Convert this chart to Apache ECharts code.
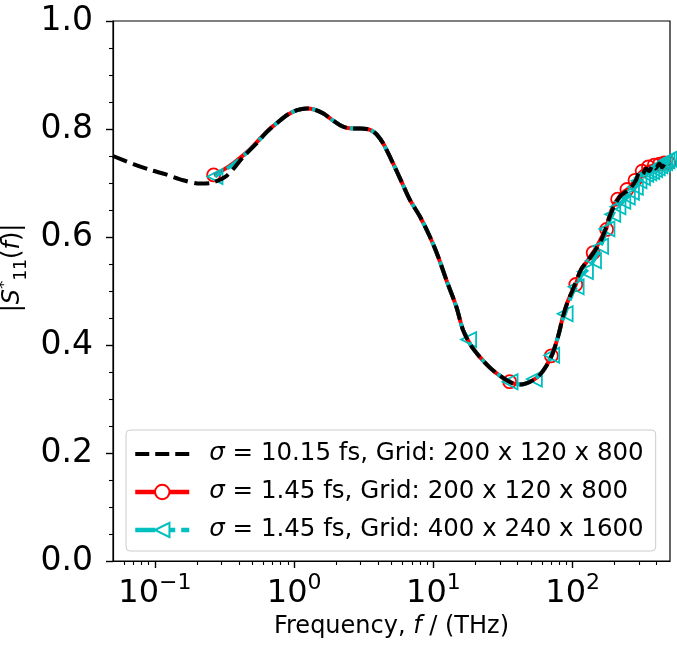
<!DOCTYPE html>
<html>
<head>
<meta charset="utf-8">
<script src="https://cdn.jsdelivr.net/npm/echarts@6/dist/echarts.min.js"></script>
<style>
  html, body { margin: 0; padding: 0; background: #fff; }
  #main { width: 677px; height: 651px; }
</style>
</head>
<body>
<div id="main"></div>
<script>
// sigma = 10.15 fs, coarse grid (black dashed)
var blackFreq = [0.05, 0.07, 0.093, 0.12, 0.16, 0.21, 0.26, 0.33, 0.43, 0.53, 0.64, 0.76, 0.89, 1.05, 1.23, 1.4, 1.61, 1.85, 2.14, 2.4, 2.65, 3.0, 3.32, 3.6, 3.91, 4.36, 5.14, 5.91, 6.77, 8.0, 9.42, 10.8, 12.4, 14.6, 16.3, 18.5, 21.5, 25, 28.3, 33, 37.2, 42, 46.4, 52, 57.8, 65, 72, 79, 85, 92, 100, 115, 128, 139, 151, 164, 184, 199, 222, 255, 285, 301, 318, 336, 355, 375, 395, 419, 440, 465, 493];
var blackVal = [0.750, 0.735, 0.724, 0.716, 0.705, 0.699, 0.701, 0.714, 0.748, 0.772, 0.795, 0.812, 0.826, 0.835, 0.838, 0.836, 0.829, 0.818, 0.807, 0.802, 0.801, 0.801, 0.800, 0.797, 0.790, 0.773, 0.736, 0.702, 0.669, 0.638, 0.601, 0.564, 0.520, 0.471, 0.428, 0.400, 0.378, 0.360, 0.348, 0.336, 0.329, 0.327, 0.329, 0.335, 0.344, 0.362, 0.385, 0.418, 0.452, 0.480, 0.502, 0.540, 0.556, 0.568, 0.582, 0.600, 0.637, 0.658, 0.677, 0.688, 0.705, 0.720, 0.716, 0.727, 0.722, 0.733, 0.727, 0.736, 0.729, 0.738, 0.733];

// sigma = 1.45 fs, coarse grid (red solid, circles)
var redFreq = [0.264, 0.30, 0.367, 0.484, 0.64, 0.76, 0.89, 1.05, 1.23, 1.4, 1.61, 1.85, 2.14, 2.4, 2.65, 3.0, 3.32, 3.6, 3.91, 4.36, 5.14, 5.91, 6.77, 8.0, 9.42, 10.8, 12.4, 14.6, 16.3, 18.5, 21.5, 25, 28.3, 33, 37.2, 42, 46.4, 52, 57.8, 65, 72, 79, 85, 92, 100, 115, 128, 139, 151, 164, 174, 184, 199, 222, 255, 285, 301, 336, 375, 419, 455, 493];
var redVal = [0.715, 0.722, 0.737, 0.763, 0.796, 0.812, 0.826, 0.835, 0.838, 0.836, 0.829, 0.818, 0.807, 0.802, 0.801, 0.801, 0.800, 0.797, 0.790, 0.773, 0.736, 0.702, 0.669, 0.638, 0.601, 0.564, 0.520, 0.471, 0.428, 0.400, 0.378, 0.360, 0.348, 0.336, 0.329, 0.327, 0.329, 0.335, 0.344, 0.362, 0.385, 0.418, 0.452, 0.480, 0.500, 0.540, 0.556, 0.570, 0.585, 0.603, 0.614, 0.640, 0.661, 0.679, 0.691, 0.707, 0.717, 0.728, 0.732, 0.735, 0.737, 0.737];
var redMarkFreq = [0.264, 35.3, 70.3, 105.3, 140.3, 175.3, 210.3, 245.3, 280.3, 315.3, 350.3, 385.3, 420.3, 455.3, 490.3];
var redMarkVal = [0.715, 0.332, 0.380, 0.512, 0.571, 0.614, 0.670, 0.688, 0.705, 0.722, 0.730, 0.733, 0.735, 0.737, 0.737];

// sigma = 1.45 fs, fine grid (cyan dashed, left triangles)
var cyanFreq = [0.27, 0.30, 0.367, 0.484, 0.64, 0.76, 0.89, 1.05, 1.23, 1.4, 1.61, 1.85, 2.14, 2.4, 2.65, 3.0, 3.32, 3.6, 3.91, 4.36, 5.14, 5.91, 6.77, 8.0, 9.42, 10.8, 12.4, 14.6, 16.3, 18.5, 21.5, 25, 28.3, 33, 37.2, 42, 46.4, 52, 57.8, 65, 72, 79, 85, 92, 100, 115, 128, 139, 151, 164, 184, 199, 222, 255, 285, 301, 336, 375, 419, 455, 493];
var cyanVal = [0.712, 0.720, 0.735, 0.762, 0.795, 0.812, 0.826, 0.835, 0.838, 0.836, 0.829, 0.818, 0.807, 0.802, 0.801, 0.801, 0.800, 0.797, 0.790, 0.773, 0.736, 0.702, 0.669, 0.638, 0.601, 0.564, 0.520, 0.471, 0.428, 0.400, 0.378, 0.360, 0.348, 0.336, 0.329, 0.327, 0.329, 0.335, 0.344, 0.362, 0.385, 0.418, 0.448, 0.472, 0.497, 0.528, 0.540, 0.553, 0.570, 0.592, 0.630, 0.647, 0.663, 0.677, 0.694, 0.705, 0.716, 0.722, 0.731, 0.738, 0.744];
var cyanMarkFreq = [0.27, 17.9, 35.5, 53.1, 70.7, 88.3, 105.9, 123.5, 141.1, 158.7, 176.3, 193.9, 211.5, 229.1, 246.7, 264.3, 281.9, 299.5, 317.1, 334.7, 352.3, 369.9, 387.5, 405.1, 422.7, 440.3, 457.9, 475.5, 493.1];
var cyanMarkVal = [0.712, 0.410, 0.332, 0.337, 0.381, 0.458, 0.508, 0.536, 0.556, 0.583, 0.615, 0.642, 0.656, 0.666, 0.674, 0.683, 0.692, 0.704, 0.710, 0.716, 0.719, 0.721, 0.725, 0.728, 0.732, 0.735, 0.738, 0.741, 0.744];

var seriesNames = [
  'σ = 10.15 fs, Grid: 200 x 120 x 800',
  'σ = 1.45 fs, Grid: 200 x 120 x 800',
  'σ = 1.45 fs, Grid: 400 x 240 x 1600'
];

var xMajorTicks = [0.1, 1, 10, 100];
var xMinorTicks = [0.06, 0.07, 0.08, 0.09, 0.2, 0.3, 0.4, 0.5, 0.6, 0.7, 0.8, 0.9, 2, 3, 4, 5, 6, 7, 8, 9, 20, 30, 40, 50, 60, 70, 80, 90, 200, 300, 400];
var xMin = 0.05, xMax = 500;

function pairs(xs, ys) {
  return xs.map(function (x, i) { return [x, ys[i]]; });
}

// curve points without symbol + marker points with symbol, ordered by frequency
function withMarkers(xs, ys, mx, my) {
  var items = xs.map(function (x, i) { return { value: [x, ys[i]], symbol: 'none' }; });
  mx.forEach(function (x, i) { items.push({ value: [x, my[i]] }); });
  items.sort(function (a, b) { return a.value[0] - b.value[0]; });
  return items;
}

var FONT = 'DejaVu Sans';
var RED = '#ff0000', CYAN = '#00bfbf';

var myChart = echarts.init(document.getElementById('main'));

var option = {
  animation: false,
  textStyle: { fontFamily: FONT, color: '#000' },
  grid: {
    left: 113, right: 7, top: 21, bottom: 90,
    containLabel: false, outerBoundsMode: 'none',
    show: true, borderColor: '#000', borderWidth: 1.2, backgroundColor: '#fff'
  },
  legend: {
    orient: 'vertical',
    left: 126, top: 430,
    padding: [10, 12, 7, 7],
    backgroundColor: 'rgba(255,255,255,0.85)',
    borderColor: '#cccccc', borderWidth: 1, borderRadius: 4,
    itemWidth: 54, itemHeight: 18, itemGap: 10,
    selectedMode: false,
    lineStyle: { width: 4.5 },
    textStyle: {
      fontFamily: FONT, fontSize: 24.5, color: '#000', lineHeight: 28,
      padding: [0, 0, 0, 15],
      rich: { i: { fontFamily: FONT, fontStyle: 'italic', fontSize: 24.5, lineHeight: 28 } }
    },
    formatter: function (name) { return name.replace('σ', '{i|σ}'); },
    data: [
      { name: seriesNames[0], icon: 'path://M0,0h14v4h-14z M20,0h14v4h-14z M40,0h14v4h-14z',
        itemStyle: { color: '#000', borderWidth: 0 } },
      { name: seriesNames[1], itemStyle: { color: '#fff', borderColor: RED, borderWidth: 2 },
        lineStyle: { color: RED, width: 4.5, type: 'solid' } },
      { name: seriesNames[2], itemStyle: { color: '#fff', borderColor: CYAN, borderWidth: 2 },
        lineStyle: { color: CYAN, width: 4.5, type: [20, 5, 15, 6], dashOffset: 0 } }
    ]
  },
  xAxis: [{
    type: 'log', logBase: 10, min: xMin, max: xMax,
    name: 'Frequency, {i|f} / (THz)',
    nameLocation: 'middle', nameGap: 52,
    nameTextStyle: {
      fontFamily: FONT, fontSize: 24, color: '#000',
      rich: { i: { fontFamily: FONT, fontStyle: 'italic', fontSize: 24 } }
    },
    axisLine: { show: true, lineStyle: { color: '#000', width: 1.2 } },
    axisTick: { show: true, length: 7, customValues: xMajorTicks, lineStyle: { color: '#000', width: 1.4 } },
    splitLine: { show: false },
    axisLabel: {
      customValues: xMajorTicks,
      margin: 11,
      color: '#000',
      formatter: function (v) {
        var e = Math.round(Math.log10(v));
        return '{b|10}{s|' + (e < 0 ? '\u2212' + (-e) : e) + '}';
      },
      rich: {
        b: { fontFamily: FONT, fontSize: 32, lineHeight: 38, verticalAlign: 'bottom', color: '#000' },
        s: { fontFamily: FONT, fontSize: 22, lineHeight: 22, verticalAlign: 'top', color: '#000' }
      }
    }
  }, {
    type: 'log', logBase: 10, min: xMin, max: xMax,
    position: 'bottom',
    axisLine: { show: false },
    axisTick: { show: true, length: 4, customValues: xMinorTicks, lineStyle: { color: '#000', width: 1.1 } },
    axisLabel: { show: false },
    splitLine: { show: false }
  }],
  yAxis: {
    type: 'value', min: 0, max: 1, interval: 0.2,
    name: '|{i|S}{sup|*}{sub|11}({i|f})|',
    nameLocation: 'middle', nameGap: 78, nameRotate: 90,
    nameTextStyle: {
      fontFamily: FONT, fontSize: 24, color: '#000', lineHeight: 34,
      padding: [0, 0, 0, 46],
      rich: {
        i: { fontFamily: FONT, fontStyle: 'italic', fontSize: 24, lineHeight: 34 },
        sup: { fontFamily: FONT, fontSize: 17, lineHeight: 17, verticalAlign: 'top' },
        sub: { fontFamily: FONT, fontSize: 17, lineHeight: 17, verticalAlign: 'bottom' }
      }
    },
    axisLine: { show: true, lineStyle: { color: '#000', width: 1.2 } },
    axisTick: { show: true, length: 7, lineStyle: { color: '#000', width: 1.4 } },
    minorTick: { show: true, splitNumber: 4, length: 4, lineStyle: { color: '#000', width: 1.1 } },
    splitLine: { show: false },
    axisLabel: {
      fontFamily: FONT, fontSize: 33, color: '#000', margin: 20,
      formatter: function (v) { return v.toFixed(1); }
    }
  },
  series: [
    {
      name: seriesNames[1], type: 'line',
      data: withMarkers(redFreq, redVal, redMarkFreq, redMarkVal),
      symbol: 'circle', symbolSize: 13, showSymbol: true, smooth: 0.3, z: 2, silent: true,
      itemStyle: { color: 'transparent', borderColor: RED, borderWidth: 1.8 },
      lineStyle: { color: RED, width: 4 }
    },
    {
      name: seriesNames[0], type: 'line', data: pairs(blackFreq, blackVal),
      symbol: 'none', showSymbol: false, smooth: 0.3, z: 4, silent: true,
      itemStyle: { color: '#000' },
      lineStyle: { color: '#000', width: 4, type: [15, 6.4] }
    },
    {
      name: seriesNames[2], type: 'line',
      data: withMarkers(cyanFreq, cyanVal, cyanMarkFreq, cyanMarkVal),
      symbol: 'triangle', symbolRotate: 90, symbolSize: 15, showSymbol: true, smooth: 0.3, z: 3, silent: true,
      itemStyle: { color: 'transparent', borderColor: CYAN, borderWidth: 1.8 },
      lineStyle: { color: CYAN, width: 4, type: [15, 6.4], dashOffset: 7 }
    }
  ]
};

myChart.setOption(option);
</script>
</body>
</html>
